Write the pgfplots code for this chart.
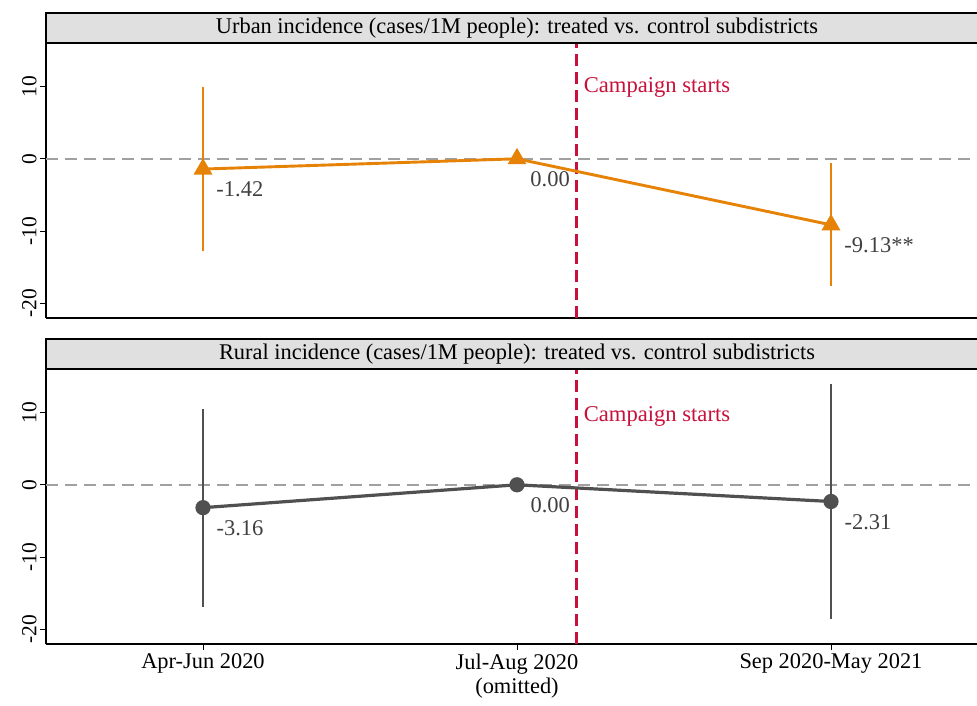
\documentclass[border=0pt]{standalone}
\usepackage{fontspec}
\setmainfont{Liberation Serif}
\usepackage{pgfplots}
\pgfplotsset{compat=1.18}
\definecolor{myorange}{RGB}{230,130,5}
\definecolor{mygray}{RGB}{80,80,80}
\definecolor{myred}{RGB}{200,16,58}
\definecolor{boxgray}{RGB}{224,224,224}
\definecolor{lblgray}{RGB}{64,64,64}
\definecolor{zerogray}{RGB}{160,160,160}
\pgfplotsset{
  panel/.style={
    scale only axis, width=931pt, height=275pt,
    xmin=-0.5, xmax=2.465, ymin=-22, ymax=16,
    axis x line*=bottom, axis y line*=left,
    axis line style={-, line width=1.2pt},
    ytick={-20,-10,0,10}, yticklabels={-20,-10,0,10},
    yticklabel style={rotate=90, anchor=south, font=\fontsize{21.5}{21.5}\selectfont},
    tick align=outside, major tick length=6pt, tick style={black, line width=0.8pt},
    clip=false,
  },
  vals/.style={
    point meta=explicit symbolic, nodes near coords,
    nodes near coords style={anchor=north west, inner sep=0pt, xshift=12pt, yshift=-11pt,
      text=lblgray, font=\fontsize{22.5}{22.5}\selectfont},
  },
}
\begin{document}
\begin{tikzpicture}
\useasboundingbox (0,0) rectangle (977pt,705pt);
% ---------- Urban panel ----------
\begin{axis}[panel, at={(46pt,387pt)}, anchor=south west, xtick=\empty]
\addplot[zerogray, line width=1.8pt, dash pattern=on 12pt off 7pt, forget plot] coordinates {(-0.5,0) (2.465,0)};
\addplot[myred, line width=2.8pt, dash pattern=on 12pt off 6pt, forget plot] coordinates {(1.19,-22) (1.19,16)};
\addplot[draw=none, mark=none, forget plot,
  error bars/.cd, y dir=both, y explicit, error mark=none,
  error bar style={myorange, line width=1.7pt}]
  coordinates {(0,-1.42) +- (0,11.3) (2,-9.13) +- (0,8.5)};
\addplot[myorange, line width=2.9pt, mark=triangle*, mark size=8pt, mark options={solid}, vals]
  coordinates {(0,-1.42) [-1.42] (1,0) [0.00] (2,-9.13) [-9.13**]};
\node[anchor=west, inner sep=0pt, xshift=7pt, text=myred, font=\fontsize{22.6}{22.6}\selectfont] at (axis cs:1.19,9.8) {Campaign starts};
\draw[fill=boxgray, line width=1.2pt] (rel axis cs:0,1) rectangle ([yshift=30pt]rel axis cs:1.05,1);
\node[font=\fontsize{22.4}{22.4}\selectfont] at ([yshift=15pt]axis cs:1,16) {Urban incidence (cases/1M people): treated vs. control subdistricts};
\end{axis}
% ---------- Rural panel ----------
\begin{axis}[panel, at={(46pt,61pt)}, anchor=south west,
  xtick={0,1,2}, xticklabels={Apr-Jun 2020, {Jul-Aug 2020\\(omitted)}, Sep 2020-May 2021},
  xticklabel style={align=center, font=\fontsize{22.4}{24}\selectfont}]
\addplot[zerogray, line width=1.8pt, dash pattern=on 12pt off 7pt, forget plot] coordinates {(-0.5,0) (2.465,0)};
\addplot[myred, line width=2.8pt, dash pattern=on 12pt off 6pt, forget plot] coordinates {(1.19,-22) (1.19,16)};
\addplot[draw=none, mark=none, forget plot,
  error bars/.cd, y dir=both, y explicit, error mark=none,
  error bar style={mygray, line width=1.5pt}]
  coordinates {(0,-3.16) +- (0,13.7) (2,-2.31) +- (0,16.2)};
\addplot[mygray, line width=3.2pt, mark=*, mark size=6pt, mark options={solid}, vals]
  coordinates {(0,-3.16) [-3.16] (1,0) [0.00] (2,-2.31) [-2.31]};
\node[anchor=west, inner sep=0pt, xshift=7pt, text=myred, font=\fontsize{22.6}{22.6}\selectfont] at (axis cs:1.19,9.5) {Campaign starts};
\draw[fill=boxgray, line width=1.2pt] (rel axis cs:0,1) rectangle ([yshift=30pt]rel axis cs:1.05,1);
\node[font=\fontsize{22.4}{22.4}\selectfont] at ([yshift=15pt]axis cs:1,16) {Rural incidence (cases/1M people): treated vs. control subdistricts};
\end{axis}
\end{tikzpicture}
\end{document}
